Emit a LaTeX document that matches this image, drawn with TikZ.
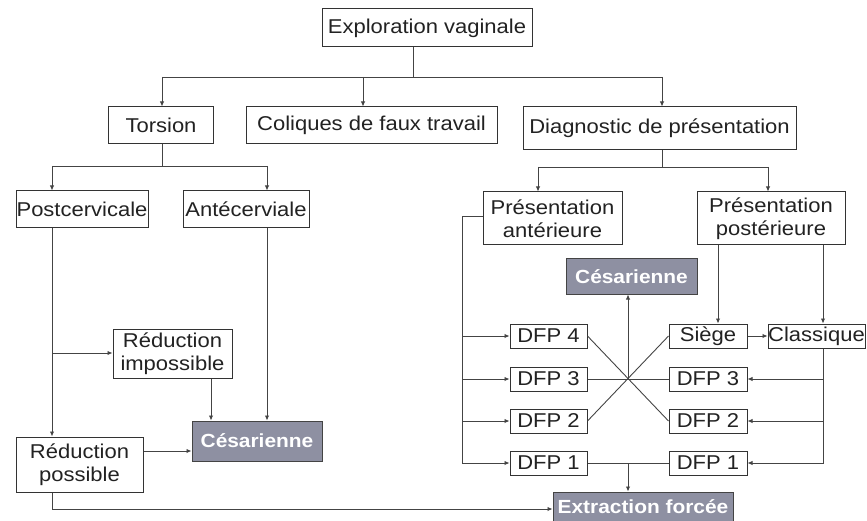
\documentclass[tikz,border=0pt]{standalone}
\usepackage{fontspec}
\setmainfont{Liberation Sans}[FakeStretch=1.1]
\usetikzlibrary{arrows.meta,calc}
\definecolor{boxc}{HTML}{333333}
\definecolor{linec}{HTML}{444444}
\definecolor{grayf}{HTML}{8E90A2}
\definecolor{textc}{HTML}{222222}
\begin{document}
\begin{tikzpicture}[x=1pt,y=-1pt,
 box/.style={draw=boxc, line width=1pt, fill=white, inner sep=0pt, align=center,
   font=\fontsize{20}{23}\selectfont, text=textc},
 gbox/.style={box, fill=grayf, draw=linec, text=white, font=\fontsize{19}{23}\selectfont\bfseries},
 ln/.style={draw=linec, line width=0.9pt},
 arr/.style={ln, -{Latex[length=5pt,width=4.5pt]}}]
\useasboundingbox (0,0) rectangle (867,521);

% nodes
\node[box,minimum width=210,minimum height=38] (expl) at (427,28) {Exploration vaginale};
\node[box,minimum width=105,minimum height=37] (tors) at (161,125.5) {Torsion};
\node[box,minimum width=251,minimum height=37] (coli) at (371.5,125.5) {Coliques de faux travail};
\node[box,minimum width=273,minimum height=43] (diag) at (659.5,128.5) {Diagnostic de présentation};
\node[box,minimum width=132,minimum height=37] (postc) at (82,209.5) {Postcervicale};
\node[box,minimum width=126,minimum height=37] (antec) at (246,209.5) {Antécerviale};
\node[box,minimum width=139,minimum height=53] (pant) at (552.5,218.5) {Présentation\\antérieure};
\node[box,minimum width=148,minimum height=53] (ppost) at (771,218.5) {Présentation\\postérieure};
\node[gbox,minimum width=131,minimum height=35] (cesR) at (631.5,276.5) {Césarienne};
\node[box,minimum width=77,minimum height=24] (dfp4L) at (548.5,336) {DFP 4};
\node[box,minimum width=77,minimum height=24] (dfp3L) at (548.5,379) {DFP 3};
\node[box,minimum width=77,minimum height=24] (dfp2L) at (548.5,421) {DFP 2};
\node[box,minimum width=77,minimum height=24] (dfp1L) at (548.5,463) {DFP 1};
\node[box,minimum width=78,minimum height=24] (siege) at (708,336) {Siège};
\node[box,minimum width=78,minimum height=24] (dfp3R) at (708,379) {DFP 3};
\node[box,minimum width=78,minimum height=24] (dfp2R) at (708,421) {DFP 2};
\node[box,minimum width=78,minimum height=24] (dfp1R) at (708,463) {DFP 1};
\node[box,minimum width=97,minimum height=24] (classique) at (816.5,336) {Classique};
\node[box,minimum width=119,minimum height=49] (redimp) at (172.5,353.5) {Réduction\\impossible};
\node[gbox,minimum width=130,minimum height=40] (cesL) at (257,441) {Césarienne};
\node[box,minimum width=127,minimum height=55] (redpos) at (79.5,464.5) {Réduction\\possible};
\node[gbox,minimum width=180,minimum height=29] (extr) at (643,506.5) {Extraction forcée};

% top level
\coordinate (b1) at (413,77);
\coordinate (bL) at (162,77); \coordinate (bC) at (363,77); \coordinate (bR) at (662,77);
\draw[ln] (expl.south -| b1) -- (b1);
\draw[ln] (bL) -- (bR);
\draw[arr] (bL) -- (bL |- tors.north);
\draw[arr] (bC) -- (bC |- coli.north);
\draw[arr] (bR) -- (bR |- diag.north);

% torsion
\coordinate (t1) at (162,166); \coordinate (tL) at (52,166); \coordinate (tR) at (267,166);
\draw[ln] (t1 |- tors.south) -- (t1);
\draw[ln] (tL) -- (tR);
\draw[arr] (tL) -- (tL |- postc.north);
\draw[arr] (tR) -- (tR |- antec.north);

% diagnostic
\coordinate (d1) at (662,167); \coordinate (dL) at (538,167); \coordinate (dR) at (768,167);
\draw[ln] (d1 |- diag.south) -- (d1);
\draw[ln] (dL) -- (dR);
\draw[arr] (dL) -- (dL |- pant.north);
\draw[arr] (dR) -- (dR |- ppost.north);

% presentation anterieure
\coordinate (pv) at (462,216);
\draw[arr] (pv -| pant.west) -- (pv) |- (dfp1L.west);
\draw[arr] (pv |- dfp4L.west) -- (dfp4L.west);
\draw[arr] (pv |- dfp3L.west) -- (dfp3L.west);
\draw[arr] (pv |- dfp2L.west) -- (dfp2L.west);

% presentation posterieure
\coordinate (s1) at (718,245); \coordinate (c2) at (823,245);
\draw[arr] (s1 |- ppost.south) -- (s1 |- siege.north);
\draw[arr] (c2 |- ppost.south) -- (c2 |- classique.north);
\draw[arr] (siege.east) -- (classique.west);
\draw[arr] (c2 |- classique.south) |- (dfp1R.east);
\draw[arr] (c2 |- dfp3R.east) -- (dfp3R.east);
\draw[arr] (c2 |- dfp2R.east) -- (dfp2R.east);

% cross
\draw[ln] (dfp4L.east) -- (dfp2R.west);
\draw[ln] (dfp2L.east) -- (siege.west);
\draw[ln] (dfp3L.east) -- (dfp3R.west);
\coordinate (x0) at (628,379);
\draw[arr] (x0) -- (x0 |- cesR.south);
\draw[ln] (dfp1L.east) -- (dfp1R.west);
\coordinate (x1) at (628,463);
\draw[arr] (x1) -- (x1 |- extr.north);

% left side
\coordinate (pc) at (52,228);
\draw[arr] (pc |- postc.south) -- (pc |- redpos.north);
\coordinate (pm) at (52,353);
\draw[arr] (pm) -- (pm -| redimp.west);
\coordinate (ac) at (267,228);
\draw[arr] (ac |- antec.south) -- (ac |- cesL.north);
\coordinate (ri) at (211,378);
\draw[arr] (ri |- redimp.south) -- (ri |- cesL.north);
\coordinate (rp) at (143,451);
\draw[arr] (rp -| redpos.east) -- (rp -| cesL.west);
\coordinate (rb) at (52,509);
\draw[arr] (rb |- redpos.south) -- (rb) -- (rb -| extr.west);
\end{tikzpicture}
\end{document}
